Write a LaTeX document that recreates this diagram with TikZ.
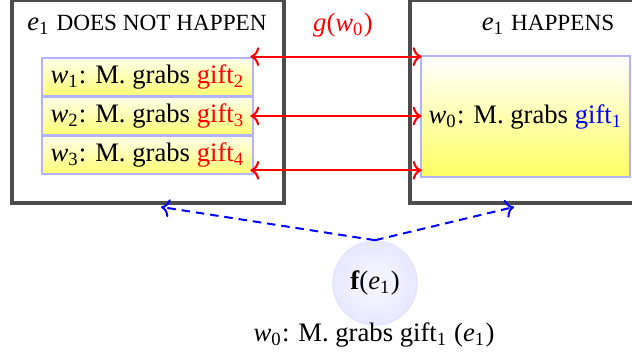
\documentclass[tikz,border=0pt]{standalone}
\usepackage{fontspec}
\setmainfont{Liberation Serif}
\usetikzlibrary{arrows.meta}
\newcommand\vsub[2]{\textit{#1}\textsubscript{#2}}
\begin{document}
\begin{tikzpicture}[x=0.375pt,y=-0.375pt,
  outerbox/.style={draw=black!70,line width=1.3pt,inner sep=0pt,minimum width=102pt,minimum height=76.1pt},
  rowbox/.style={draw=blue!30,line width=1pt,top color=yellow!8,bottom color=yellow!55,inner sep=0pt,minimum width=79.1pt,minimum height=14.5pt,font=\fontsize{10}{12}\selectfont},
  bigbox/.style={draw=blue!30,line width=1pt,top color=white,bottom color=yellow!62,inner sep=0pt,minimum width=78.4pt,minimum height=45.4pt,font=\fontsize{10}{12}\selectfont},
  capsfont/.style={font=\fontsize{10}{12}\selectfont},
  redarrow/.style={{To[scale=1.0]}-{To[scale=1.0]},red,line width=0.8pt},
  bluearrow/.style={-{To[scale=1.0]},blue,line width=0.75pt,dash pattern=on 3.2pt off 2.2pt},
  fcircle/.style={circle,draw=blue!10,line width=0.6pt,inner color=blue!3,outer color=blue!9,minimum size=31.5pt,inner sep=0pt,font=\fontsize{10}{12}\selectfont}
]
\useasboundingbox (0,0) rectangle (632,356);
% outer boxes
\node[outerbox] (L) at (148,101.5) {};
\node[outerbox] (R) at (546,101.5) {};
% titles
\node[capsfont] (tl) at (147,25) {\vsub{e}{1} {\fontsize{8.7}{10}\selectfont DOES NOT HAPPEN}};
\node[capsfont] (tr) at (548,25) {\vsub{e}{1} {\fontsize{8.7}{10}\selectfont HAPPENS}};
\node[capsfont,text=red] (g) at (343,25) {\textit{g}(\vsub{w}{0})};
% rows
\node[rowbox] (r1) at (147.5,77.3) {\vsub{w}{1}: M. grabs \textcolor{red}{gift\textsubscript{2}}};
\node[rowbox] (r2) at (147.5,116) {\vsub{w}{2}: M. grabs \textcolor{red}{gift\textsubscript{3}}};
\node[rowbox] (r3) at (147.5,154.7) {\vsub{w}{3}: M. grabs \textcolor{red}{gift\textsubscript{4}}};
\node[bigbox] (W) at (525.5,116.5) {\vsub{w}{0}: M. grabs \textcolor{blue}{gift\textsubscript{1}}};
% red arrows
\coordinate (a1) at ([xshift=-1.5pt]r1.north east);
\coordinate (a1r) at (a1 -| W.west);
\draw[redarrow] (a1) -- ([xshift=0.75pt]a1r);
\coordinate (a2) at ([xshift=-1.5pt]r2.east);
\coordinate (a2r) at (a2 -| W.west);
\draw[redarrow] (a2) -- ([xshift=0.75pt]a2r);
\coordinate (a3) at ([xshift=-1.5pt,yshift=1.9pt]r3.south east);
\coordinate (a3r) at (a3 -| W.west);
\draw[redarrow] (a3) -- ([xshift=0.75pt]a3r);
% circle
\node[fcircle] (C) at (375,283) {\textbf{f}(\vsub{e}{1})};
\node[capsfont] (cap) at (374,335) {\vsub{w}{0}: M. grabs gift\textsubscript{1} (\vsub{e}{1})};
% dashed arrows
\coordinate (dl) at (161,207);
\coordinate (dr) at (514,207);
\draw[bluearrow] (C.north) -- (dl);
\draw[bluearrow] (C.north) -- (dr);
\end{tikzpicture}
\end{document}
